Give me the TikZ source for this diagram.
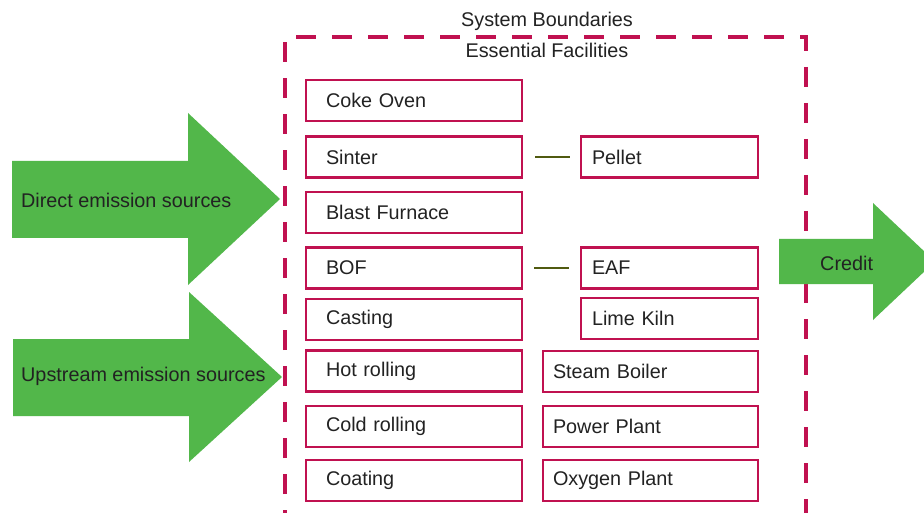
\documentclass[tikz,border=0pt]{standalone}
\usepackage{fontspec}
\setmainfont{Liberation Sans}
\definecolor{crim}{RGB}{192,17,80}
\definecolor{grn}{RGB}{82,183,74}
\definecolor{olive}{RGB}{80,90,16}
\definecolor{txt}{RGB}{34,34,34}
\begin{document}
\begin{tikzpicture}[x=1pt,y=-1pt,
  font=\fontsize{19.8}{23}\selectfont,
  box/.style={draw=crim, line width=2.8pt, fill=white, rectangle, minimum height=41pt, align=left, text=txt, inner ysep=0pt},
  lbox/.style={box, text width=176pt, inner xsep=20pt},
  pbox/.style={box, text width=155pt, inner xsep=11pt},
  sbox/.style={box, text width=195pt, inner xsep=10pt},
  conn/.style={draw=olive, line width=2.6pt},
  boundary/.style={draw=crim, line width=4pt, dash pattern=on 20pt off 16pt},
  lbl/.style={text=txt, inner sep=0pt}]
\clip (0,0) rectangle (924,513);
\fill[white] (0,0) rectangle (924,513);
% system boundary
\draw[boundary] (285,530) -- (285,37) -- (806,37) -- (806,530);
\node[lbl] (sysb) at (547,21) {System Boundaries};
\node[lbl] (essf) at (547,50) {Essential Facilities};
% left column
\node[lbox] (coke)    at (414,100.5) {Coke Oven};
\node[lbox] (sinter)  at (414,157) {Sinter};
\node[lbox] (blast)   at (414,212.5) {Blast Furnace};
\node[lbox] (bof)     at (414,268) {BOF};
\node[lbox] (cast)    at (414,319.5) {Casting};
\node[lbox] (hot)     at (414,371)   {Hot rolling};
\node[lbox] (cold)    at (414,426.5) {Cold rolling};
\node[lbox] (coat)    at (414,480.5) {Coating};
% right column
\node[pbox] (pellet)  at (669.5,157) {Pellet};
\node[pbox] (eaf)     at (669.5,268) {EAF};
\node[pbox] (lime)    at (669.5,318.5) {Lime Kiln};
\node[sbox] (steam)   at (650.5,371.5) {Steam Boiler};
\node[sbox] (power)   at (650.5,426.5) {Power Plant};
\node[sbox] (oxy)     at (650.5,480.5) {Oxygen Plant};
% connectors
\draw[conn, shorten <=12pt, shorten >=10pt] (sinter.east) -- (pellet.west);
\draw[conn, shorten <=11pt, shorten >=11pt] (bof.east) -- (eaf.west);
% green arrows
\fill[grn] (12,161) -- (188,161) -- (188,113) -- (280,199) -- (188,285) -- (188,238) -- (12,238) -- cycle;
\fill[grn] (13,339) -- (189,339) -- (189,292) -- (282,377) -- (189,462) -- (189,416) -- (13,416) -- cycle;
\fill[grn] (779,239) -- (873,239) -- (873,203) -- (935,261.5) -- (873,320) -- (873,284) -- (779,284) -- cycle;
\node[lbl, anchor=west] (direct) at (21,200) {Direct emission sources};
\node[lbl, anchor=west] (upstream) at (21,376) {Upstream emission sources};
\node[lbl, anchor=west] (credit) at (820,263) {Credit};
\end{tikzpicture}
\end{document}
